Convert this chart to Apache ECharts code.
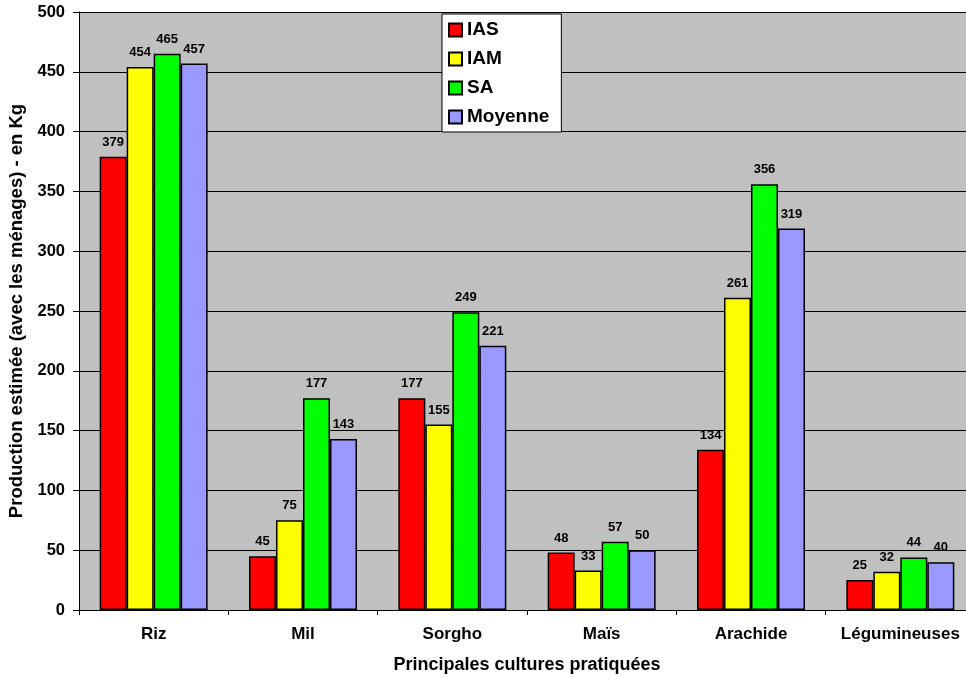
<!DOCTYPE html>
<html>
<head>
<meta charset="utf-8">
<script src="https://cdn.jsdelivr.net/npm/echarts@6/dist/echarts.min.js"></script>
<style>
html,body{margin:0;padding:0;background:#fff;}
#chart{width:966px;height:679px;}
</style>
</head>
<body>
<div id="chart"></div>
<script>
// Production estimée par culture et par groupe
const categories = ['Riz', 'Mil', 'Sorgho', 'Maïs', 'Arachide', 'Légumineuses'];
const seriesNames = ['IAS', 'IAM', 'SA', 'Moyenne'];
const valuesIAS = [379, 45, 177, 48, 134, 25];
const valuesIAM = [454, 75, 155, 33, 261, 32];
const valuesSA = [465, 177, 249, 57, 356, 44];
const valuesMoyenne = [457, 143, 221, 50, 319, 40];
const yTicks = [0, 50, 100, 150, 200, 250, 300, 350, 400, 450, 500];

const colors = ['#FF0000', '#FFFF00', '#00FF00', '#9999FF'];
const allValues = [valuesIAS, valuesIAM, valuesSA, valuesMoyenne];
const fontFamily = 'Arial, "Liberation Sans", sans-serif';

const chart = echarts.init(document.getElementById('chart'));

const series = seriesNames.map((name, i) => ({
  name: name,
  type: 'bar',
  data: allValues[i],
  barGap: '0%',
  barCategoryGap: '27.7%',
  itemStyle: { color: colors[i], borderColor: '#000', borderWidth: 1.5 },
  label: {
    show: true,
    position: 'top',
    distance: 8,
    color: '#000',
    fontWeight: 'bold',
    fontSize: 13,
    fontFamily: fontFamily
  },
  emphasis: { disabled: true },
  animation: false
}));

chart.setOption({
  animation: false,
  backgroundColor: '#fff',
  grid: {
    left: 79,
    right: -9,
    top: 12,
    bottom: 69,
    containLabel: false,
    outerBoundsMode: 'none',
    show: true,
    backgroundColor: '#C0C0C0',
    borderWidth: 0
  },
  legend: {
    data: seriesNames,
    orient: 'vertical',
    left: 442,
    top: 14,
    backgroundColor: '#fff',
    borderColor: '#000',
    borderWidth: 1,
    borderRadius: 0,
    padding: [6, 12, 5, 6],
    itemGap: 9,
    itemWidth: 13,
    itemHeight: 13,
    icon: 'rect',
    selectedMode: false,
    textStyle: {
      fontFamily: fontFamily,
      fontWeight: 'bold',
      fontSize: 19,
      lineHeight: 20,
      color: '#000'
    }
  },
  xAxis: {
    type: 'category',
    data: categories,
    name: 'Principales cultures pratiquées',
    nameLocation: 'middle',
    nameGap: 46,
    nameTextStyle: { fontFamily: fontFamily, fontWeight: 'bold', fontSize: 18, color: '#000' },
    axisLine: { lineStyle: { color: '#000', width: 1 } },
    axisTick: { show: true, interval: 0, length: 5, lineStyle: { color: '#000' } },
    axisLabel: { interval: 0, hideOverlap: false, margin: 16, fontFamily: fontFamily, fontWeight: 'bold', fontSize: 17, color: '#000' }
  },
  yAxis: {
    type: 'value',
    min: 0,
    max: 500,
    interval: 50,
    name: 'Production estimée (avec les ménages) - en Kg',
    nameLocation: 'middle',
    nameGap: 50,
    nameTextStyle: { fontFamily: fontFamily, fontWeight: 'bold', fontSize: 18.5, color: '#000' },
    axisLine: { show: true, lineStyle: { color: '#000', width: 1 } },
    axisTick: { show: true, length: 6, lineStyle: { color: '#000' } },
    axisLabel: {
      margin: 14,
      fontFamily: fontFamily,
      fontWeight: 'bold',
      fontSize: 16.5,
      color: '#000',
      formatter: v => (yTicks.includes(v) ? String(v) : '')
    },
    splitLine: { show: true, lineStyle: { color: '#000', width: 1 } }
  },
  series: series
});
</script>
</body>
</html>
